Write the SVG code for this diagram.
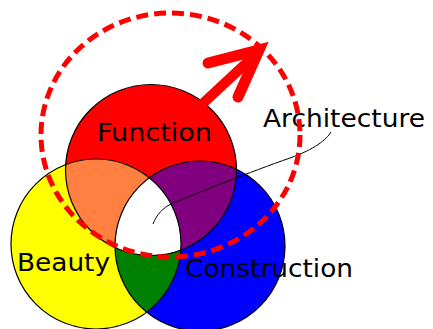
<svg xmlns="http://www.w3.org/2000/svg" width="433" height="329" viewBox="0 0 433 329">
  <style>
    .lbl { font-family: "DejaVu Sans", Verdana, sans-serif; font-size: 25px; fill: #000; }
    .outline { fill: none; stroke: #000; stroke-width: 1.2; }
    .dash { fill: none; stroke: #FF0000; stroke-width: 5; stroke-dasharray: 12 6; }
  </style>
  <defs>
    <clipPath id="clipF"><circle cx="151" cy="170" r="85.5"/></clipPath>
    <clipPath id="clipB"><circle cx="96" cy="244" r="85"/></clipPath>
  </defs>
  <rect width="433" height="329" fill="#FFFFFF"/>

  <g id="function">
    <circle cx="151" cy="170" r="85.5" fill="#FF0000"/>
  </g>
  <g id="beauty">
    <circle cx="96" cy="244" r="85" fill="#FFFF00"/>
  </g>
  <g id="construction">
    <circle cx="200" cy="246" r="85" fill="#0000FF"/>
  </g>
  <g id="overlaps">
    <circle cx="96" cy="244" r="85" fill="#FF8040" clip-path="url(#clipF)"/>
    <circle cx="200" cy="246" r="85" fill="#800080" clip-path="url(#clipF)"/>
    <circle cx="200" cy="246" r="85" fill="#008000" clip-path="url(#clipB)"/>
    <g clip-path="url(#clipF)">
      <circle cx="200" cy="246" r="85" fill="#FFFFFF" clip-path="url(#clipB)"/>
    </g>
  </g>
  <g id="outlines">
    <circle class="outline" cx="151" cy="170" r="85.5"/>
    <circle class="outline" cx="96" cy="244" r="85"/>
    <circle class="outline" cx="200" cy="246" r="85"/>
  </g>

  <g id="connectors">
    <path d="M153,224 C157,214 163,208 171,204 C200,192 250,172 290,158 C315,149 326,140 331,132" fill="none" stroke="#000" stroke-width="1"/>
  </g>

  <g id="labels">
    <text class="lbl" x="97" y="141" textLength="115" lengthAdjust="spacingAndGlyphs">Function</text>
    <text class="lbl" x="17" y="271" textLength="93" lengthAdjust="spacingAndGlyphs">Beauty</text>
    <text class="lbl" x="185" y="277" textLength="168" lengthAdjust="spacingAndGlyphs">Construction</text>
  </g>

  <g id="architecture">
    <text class="lbl" x="263" y="127" textLength="162" lengthAdjust="spacingAndGlyphs">Architecture</text>
    <ellipse class="dash" cx="170.5" cy="135" rx="129.5" ry="122"/>
    <line x1="198" y1="108" x2="255" y2="55" stroke="#FF0000" stroke-width="10"/>
    <polyline points="208,63 259,50 238,97" fill="none" stroke="#FF0000" stroke-width="11" stroke-linecap="round" stroke-linejoin="miter"/>
  </g>
</svg>
